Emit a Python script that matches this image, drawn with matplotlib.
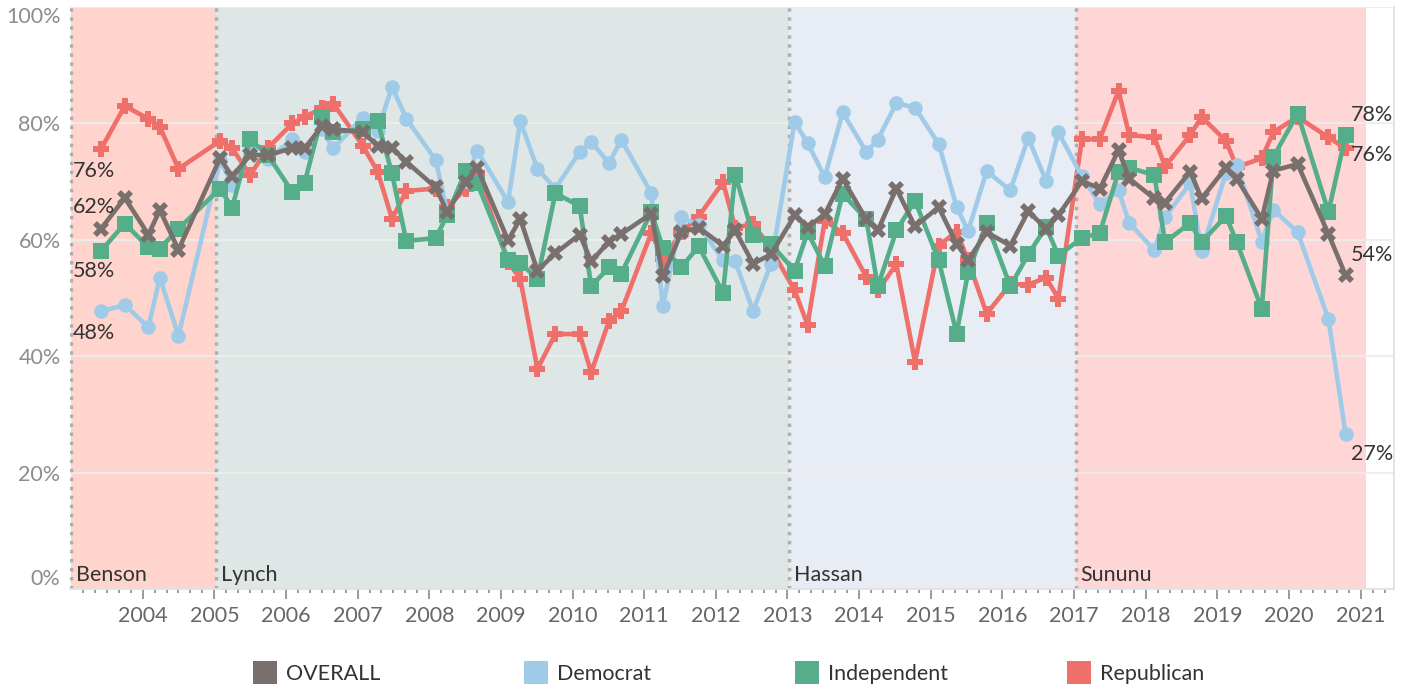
import matplotlib
matplotlib.use('Agg')
import matplotlib.pyplot as plt
from matplotlib.patches import Rectangle
from matplotlib.ticker import FixedLocator, FixedFormatter
from matplotlib.transforms import ScaledTranslation

plt.rcParams['font.family'] = ['Lato', 'DejaVu Sans']

# Fechas de las encuestas (año decimal)
fechas = [2003.42, 2003.75, 2004.08, 2004.24, 2004.50,
          2005.08, 2005.25, 2005.50, 2005.75,
          2006.09, 2006.26, 2006.50, 2006.66,
          2007.07, 2007.28, 2007.48, 2007.68,
          2008.09, 2008.25, 2008.51, 2008.67,
          2009.10, 2009.27, 2009.51, 2009.76,
          2010.10, 2010.26, 2010.51, 2010.68,
          2011.10, 2011.26, 2011.52, 2011.76,
          2012.10, 2012.27, 2012.52, 2012.77,
          2013.10, 2013.28, 2013.52, 2013.77,
          2014.10, 2014.26, 2014.52, 2014.78,
          2015.11, 2015.36, 2015.52, 2015.78,
          2016.11, 2016.36, 2016.61, 2016.78,
          2017.11, 2017.36, 2017.62, 2017.77,
          2018.12, 2018.27, 2018.62, 2018.78,
          2019.12, 2019.27, 2019.62, 2019.78,
          2020.12, 2020.55, 2020.79]

overall = [61.9, 67.2, 60.9, 65.1, 58.3,
           74.0, 70.9, 74.6, 74.5,
           75.8, 75.7, 79.5, 79.0,
           78.5, 76.2, 75.8, 73.4,
           69.0, 64.8, 69.9, 72.4,
           59.9, 63.6, 54.7, 57.7,
           60.9, 56.3, 59.7, 61.0,
           64.5, 53.7, 61.3, 62.1,
           59.0, 61.6, 55.9, 57.5,
           64.2, 62.2, 64.4, 70.5,
           63.5, 61.6, 68.8, 62.3,
           65.6, 59.3, 56.5, 61.3,
           59.0, 64.9, 61.9, 64.2,
           70.1, 68.8, 75.4, 70.5,
           67.1, 66.4, 71.7, 67.1,
           72.4, 70.5, 63.6, 71.9,
           73.0, 61.0, 53.9]

democrat = [47.7, 48.8, 45.0, 53.5, 43.5,
            73.7, 69.4, 75.4, 73.8,
            77.3, 75.1, 79.0, 75.7,
            81.0, 78.7, 86.3, 80.8,
            73.7, 64.8, 70.1, 75.3,
            66.5, 80.4, 72.2, 68.8,
            75.1, 76.8, 73.2, 77.2,
            68.0, 48.6, 63.9, 62.5,
            56.5, 56.3, 47.8, 55.9,
            80.3, 76.6, 70.8, 81.9,
            75.1, 77.2, 83.5, 82.7,
            76.5, 65.7, 61.5, 71.8,
            68.5, 77.5, 70.1, 78.5,
            70.9, 66.1, 68.5, 62.9,
            58.2, 63.9, 69.7, 58.1,
            71.5, 72.8, 59.7, 65.2,
            61.3, 46.4, 26.6]

independent = [58.1, 62.8, 58.7, 58.5, 61.9,
               68.8, 65.5, 77.3, 74.5,
               68.2, 69.8, 81.1, 78.5,
               79.0, 80.4, 71.4, 59.8,
               60.3, 64.2, 71.9, 69.7,
               56.6, 56.0, 53.3, 68.0,
               65.8, 52.0, 55.3, 54.2,
               64.8, 58.6, 55.3, 58.9,
               50.9, 71.2, 60.8, 59.2,
               54.7, 61.3, 55.5, 67.9,
               63.5, 52.0, 61.6, 66.7,
               56.5, 43.9, 54.4, 62.9,
               52.0, 57.5, 62.2, 57.3,
               60.3, 61.2, 71.7, 72.4,
               71.1, 59.6, 62.9, 59.6,
               64.1, 59.6, 48.1, 74.2,
               81.7, 64.8, 78.0]

republican = [75.6, 83.0, 80.8, 79.4, 72.2,
              77.0, 75.7, 71.1, 75.8,
              80.0, 81.1, 82.6, 83.4,
              76.2, 71.7, 63.6, 68.4,
              68.8, 65.6, 68.8, 71.4,
              56.2, 53.3, 37.8, 43.8,
              43.8, 37.2, 46.1, 47.7,
              61.2, 56.7, 61.3, 64.0,
              69.9, 62.1, 62.7, 58.5,
              51.3, 45.4, 63.3, 61.2,
              53.6, 51.3, 55.8, 39.0,
              59.0, 61.4, 56.5, 47.3,
              52.4, 52.3, 53.5, 49.9,
              77.3, 77.3, 85.6, 78.0,
              77.6, 72.6, 78.0, 81.1,
              77.0, 72.5, 74.0, 78.5,
              81.1, 77.6, 75.7]

# Gobernadores y mandatos
gobernadores = ['Benson', 'Lynch', 'Hassan', 'Sununu']
inicio_mandato = [2003.0, 2005.02, 2013.02, 2017.02]
fin_mandato = [2005.02, 2013.02, 2017.02, 2021.07]
colores_banda = ['#FFD4CC', '#DFE6E6', '#E8ECF4', '#FFD6D6']

anios = list(range(2004, 2022))

fig = plt.figure(figsize=(14.08, 6.84), dpi=100)
ax = fig.add_axes([70.3 / 1408, 1 - 589 / 684, (1394 - 70.3) / 1408, (589 - 7) / 684])

# Bandas de cada gobernador
for nombre, x0, x1, c in zip(gobernadores, inicio_mandato, fin_mandato, colores_banda):
    ax.axvspan(x0, x1, color=c, zorder=0.5, lw=0)
    ax.axvline(x0, color='#AFAFAF', lw=2.5, ls=(0, (1, 1.6)), zorder=1.8)
    ax.annotate(nombre, xy=(x0, 0), xytext=(5, 4), textcoords='offset pixels',
                ha='left', va='bottom', fontsize=15.5, color='#333333', zorder=6)

# Series
series = [
    ('Republican', republican, '#EF6F6A', 'P', 11.5),
    ('Democrat', democrat, '#A0CBE8', 'o', 10.5),
    ('Independent', independent, '#55AD89', 's', 11),
    ('OVERALL', overall, '#79706E', 'X', 11),
]
for i, (nombre, vals, c, m, ms) in enumerate(series):
    ax.plot(fechas, vals, color=c, lw=3.3, marker=m, markersize=ms,
            markeredgewidth=0, zorder=3 + i, label=nombre)

# Etiquetas de inicio y fin
etiquetas_ini = [(republican, -22), (overall, 22), (independent, -20), (democrat, -22)]
for vals, dy in etiquetas_ini:
    ax.annotate(f'{vals[0]:.0f}%', xy=(2003.0, vals[0]), xytext=(2, dy),
                textcoords='offset pixels', ha='left', va='center',
                fontsize=15.5, color='#333333', zorder=8)
etiquetas_fin = [(independent, 20), (republican, -7), (overall, 20), (democrat, -20)]
for vals, dy in etiquetas_fin:
    ax.annotate(f'{vals[-1]:.0f}%', xy=(fechas[-1], vals[-1]), xytext=(5, dy),
                textcoords='offset pixels', ha='left', va='center',
                fontsize=15.5, color='#333333', zorder=8)

# Ejes
ax.set_xlim(2002.99, 2021.465)
ax.set_ylim(0, 100)
ax.xaxis.set_major_locator(FixedLocator(anios))
ax.xaxis.set_major_formatter(FixedFormatter([str(a) for a in anios]))
ax.xaxis.set_minor_locator(FixedLocator([2003 + k / 6 for k in range(1, 18 * 6 + 3) if k % 6]))
ax.set_yticks(range(0, 101, 20))
ax.set_yticklabels([f'{v}%' for v in range(0, 101, 20)])
ylabels = ax.get_yticklabels()
ylabels[0].set_verticalalignment('bottom')
ylabels[-1].set_verticalalignment('top')
ylabels[-1].set_transform(ylabels[-1].get_transform()
                          + ScaledTranslation(0, -4 / 72, fig.dpi_scale_trans))

ax.tick_params(axis='x', which='major', length=7, width=1.2, color='#8A8A8A',
               labelsize=15.5, labelcolor='#666666', pad=5)
ax.tick_params(axis='x', which='minor', length=3, width=1.2, color='#8A8A8A')
ax.tick_params(axis='y', length=0, labelsize=15.5, labelcolor='#8C8C8C', pad=7)

ax.yaxis.grid(True, color='#EDEDED', lw=1.3, zorder=1.5)
for s in ['top', 'left']:
    ax.spines[s].set_visible(False)
ax.spines['right'].set_color('#E2E2E2')
ax.spines['bottom'].set_color('#E2E2E2')
ax.spines['right'].set_linewidth(1.3)
ax.spines['bottom'].set_linewidth(1.3)

# Leyenda manual (columnas de ancho fijo)
for i, (nombre, vals, c, m, ms) in enumerate([series[3], series[1], series[2], series[0]]):
    x0 = 252.7 + i * 271.3
    fig.add_artist(Rectangle((x0 / 1408, 0), 24 / 1408, 23.5 / 684,
                             transform=fig.transFigure, color=c, lw=0))
    fig.text((x0 + 33) / 1408, 1 - 674 / 684, nombre, ha='left', va='center',
             fontsize=15.5, color='#333333')

fig.savefig('out.png', dpi=100)
